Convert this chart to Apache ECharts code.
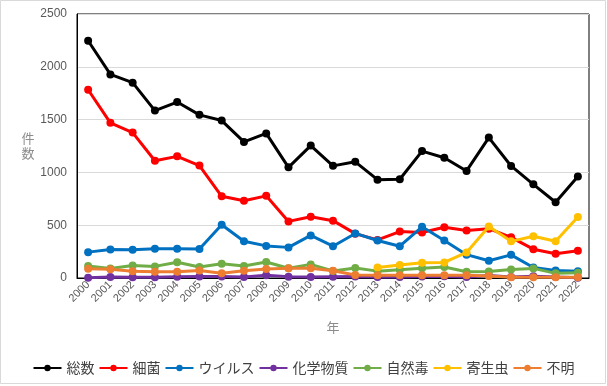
<!DOCTYPE html>
<html>
<head>
<meta charset="utf-8">
<script src="https://cdn.jsdelivr.net/npm/echarts@6/dist/echarts.min.js"></script>
<style>
html,body{margin:0;padding:0;background:#fff;}
#c{width:607px;height:386px;}
</style>
</head>
<body>
<div id="c"></div>
<script>
const years = ['2000','2001','2002','2003','2004','2005','2006','2007','2008','2009','2010','2011','2012','2013','2014','2015','2016','2017','2018','2019','2020','2021','2022'];
const seriesNames = ['総数','細菌','ウイルス','化学物質','自然毒','寄生虫','不明'];
const total    = [2247,1928,1850,1585,1666,1545,1491,1289,1369,1048,1254,1062,1100,931,935,1202,1139,1014,1330,1061,887,717,962];
const bacteria = [1783,1469,1377,1110,1152,1065,774,732,778,536,580,543,420,361,440,431,480,449,467,385,273,230,258];
const virus    = [245,269,268,278,277,275,504,348,304,290,403,301,422,355,301,485,356,221,163,219,99,72,63];
const chemical = [2,10,8,8,12,14,15,10,27,13,9,12,15,10,10,14,17,9,23,9,17,9,2];
const natural  = [113,90,119,110,150,105,134,113,152,92,129,66,95,65,79,93,105,60,61,81,91,44,50];
const parasite = [null,null,null,null,null,null,null,null,null,null,null,null,null,100,122,144,147,242,487,347,395,348,577];
const unknown  = [87,83,63,60,60,72,45,69,85,92,92,69,28,25,25,25,25,25,19,6,6,6,6];
const yTicks = [0,500,1000,1500,2000,2500];
const colors = ['#000000','#FF0000','#0070C0','#7030A0','#70AD47','#FFC000','#ED7D31'];
const dataSets = [total,bacteria,virus,chemical,natural,parasite,unknown];

const font = '"Noto Sans CJK JP","Noto Sans",sans-serif';
const numFont = '"Liberation Sans","Noto Sans",sans-serif';
const chart = echarts.init(document.getElementById('c'));
chart.setOption({
  animation:false,
  backgroundColor:'#ffffff',
  textStyle:{fontFamily:font},
  graphic:[{type:'rect',shape:{x:0.5,y:0.5,width:605,height:383},style:{fill:'none',stroke:'#d9d9d9',lineWidth:1},silent:true}],
  grid:{left:77,right:18,top:14,bottom:108,show:true,borderColor:'#000000',borderWidth:1,containLabel:false},
  legend:{
    data:seriesNames,left:'center',top:356,itemWidth:28,itemHeight:8,itemGap:4,
    textStyle:{fontSize:14,color:'#404040',fontFamily:font}
  },
  xAxis:{
    type:'category',data:years,boundaryGap:true,
    name:'年',nameLocation:'middle',nameGap:43,
    nameTextStyle:{color:'#8c8c8c',fontSize:13,fontFamily:font},
    axisLine:{show:true,lineStyle:{color:'#000000',width:1}},
    axisTick:{show:false},
    axisLabel:{rotate:45,fontSize:11,color:'#595959',margin:5,interval:0,fontFamily:numFont},
    splitLine:{show:false}
  },
  yAxis:{
    type:'value',min:yTicks[0],max:yTicks[yTicks.length-1],interval:500,
    name:'件\n数',nameLocation:'middle',nameGap:42,nameRotate:0,
    nameTextStyle:{color:'#8c8c8c',fontSize:13,lineHeight:15,fontFamily:font},
    axisLine:{show:true,lineStyle:{color:'#000000',width:1}},
    axisTick:{show:false},
    axisLabel:{fontSize:12,color:'#595959',margin:10,fontFamily:numFont,formatter:v=>String(v)},
    splitLine:{show:true,lineStyle:{color:'#d9d9d9',width:1}}
  },
  series:seriesNames.map((n,i)=>({
    name:n,type:'line',data:dataSets[i],
    symbol:'circle',symbolSize:8,showSymbol:true,
    lineStyle:{color:colors[i],width:3},
    itemStyle:{color:colors[i]},
    connectNulls:false,z:2+i
  }))
});
</script>
</body>
</html>
